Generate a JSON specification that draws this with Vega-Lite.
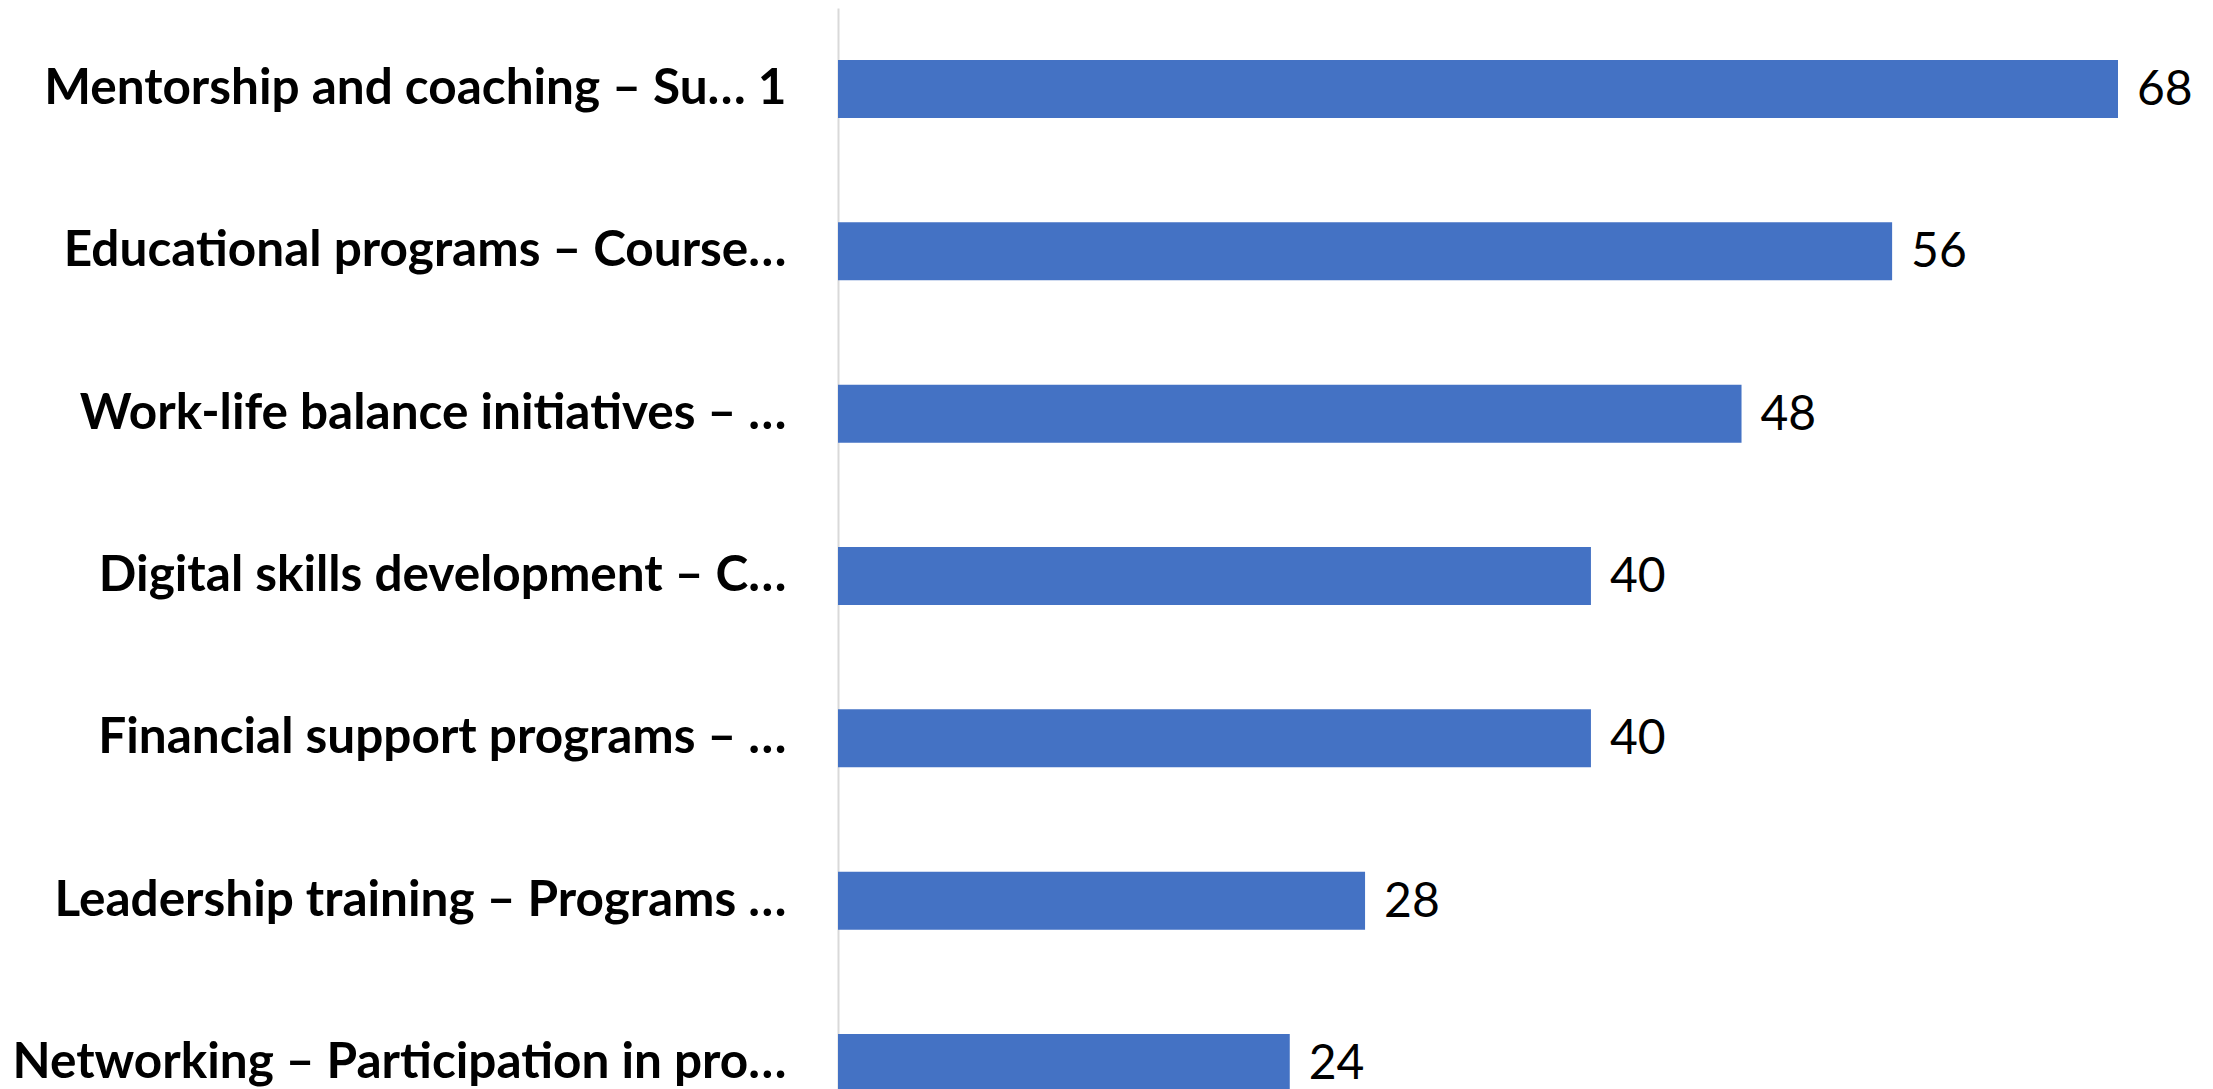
{
  "$schema": "https://vega.github.io/schema/vega-lite/v6.json",
  "autosize": {"type": "none"},
  "padding": {"left": 838, "top": 8, "right": 95, "bottom": 0},
  "width": 1280,
  "height": 1136,
  "background": "white",
  "config": {"view": {"stroke": null}},
  "data": {"values": [
    {"label": "Mentorship and coaching – Su… 1", "value": 68},
    {"label": "Educational programs – Course…", "value": 56},
    {"label": "Work-life balance initiatives – …", "value": 48},
    {"label": "Digital skills development – C…", "value": 40},
    {"label": "Financial support programs – …", "value": 40},
    {"label": "Leadership training – Programs …", "value": 28},
    {"label": "Networking – Participation in pro…", "value": 24}
  ]},
  "encoding": {
    "y": {
      "field": "label", "type": "nominal", "sort": null,
      "scale": {"paddingInner": 0.643, "paddingOuter": 0.32},
      "axis": {
        "title": null, "ticks": false, "domainColor": "#d9d9d9", "domainWidth": 2,
        "labelFont": "Lato", "labelFontWeight": "bold", "labelFontSize": 49.5,
        "labelColor": "black", "labelPadding": 52, "labelLimit": 0
      }
    },
    "x": {
      "field": "value", "type": "quantitative",
      "scale": {"domain": [0, 68], "nice": false},
      "axis": null
    }
  },
  "layer": [
    {"mark": {"type": "bar", "color": "#4472C4"}},
    {
      "mark": {"type": "text", "align": "left", "baseline": "middle", "dx": 19, "dy": 2, "font": "Lato", "fontSize": 48, "color": "black"},
      "encoding": {"text": {"field": "value", "type": "quantitative"}}
    }
  ]
}
